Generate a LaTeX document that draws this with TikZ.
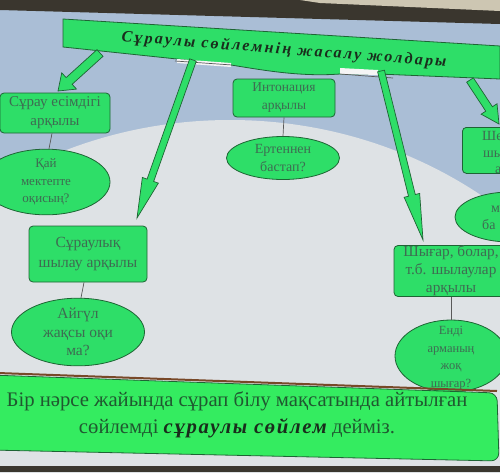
\documentclass[tikz,border=0pt]{standalone}
\usepackage{fontspec}
\setmainfont{Liberation Serif}
\usetikzlibrary{calc,shapes.geometric}
\definecolor{bgblue}{RGB}{170,190,214}
\definecolor{bglight}{RGB}{222,226,229}
\definecolor{gfill}{RGB}{46,222,104}
\definecolor{gfillb}{RGB}{52,236,96}
\definecolor{gline}{RGB}{30,100,52}
\definecolor{gtext}{RGB}{62,108,82}
\definecolor{btext}{RGB}{32,88,48}
\definecolor{ttext}{RGB}{25,45,28}
\definecolor{darkband}{RGB}{58,54,46}
\definecolor{beige}{RGB}{205,198,178}
\definecolor{brownline}{RGB}{120,72,40}
\newcommand\blockarrow[5]{%
  \path[barrow] let \p1=(#1), \p2=(#2), \n1={atan2(\y2-\y1,\x2-\x1)},
    \n2={veclen(\x2-\x1,\y2-\y1)-#5} in
    ($(\p1)+({\n1+90}:#3pt)$) -- ($(\p1)+(\n1:\n2)+({\n1+90}:#3pt)$)
    -- ($(\p1)+(\n1:\n2)+({\n1+90}:#4pt)$) -- (\p2)
    -- ($(\p1)+(\n1:\n2)+({\n1-90}:#4pt)$) -- ($(\p1)+(\n1:\n2)+({\n1-90}:#3pt)$)
    -- ($(\p1)+({\n1-90}:#3pt)$) -- cycle;}
\tikzset{
  gbox/.style={draw=gline, fill=gfill, rounded corners=4pt, line width=0.8pt, text=gtext,
    align=center, inner sep=0pt, font=\fontsize{14}{18}\selectfont},
  gell/.style={ellipse, draw=gline, fill=gfill, line width=0.8pt, text=gtext,
    align=center, inner sep=0pt, font=\fontsize{13}{17.5}\selectfont},
  link/.style={draw=black!65, line width=0.7pt},
  barrow/.style={draw=gline, fill=gfill, line width=0.7pt, line join=miter},
  parttxt/.style={text=gtext, inner sep=0pt, font=\fontsize{14}{17}\selectfont}
}
\begin{document}
\begin{tikzpicture}[x=1pt,y=-1pt]
\useasboundingbox (0,0) rectangle (500,472);
\clip (0,0) rectangle (500,472);
% background
\fill[bgblue] (0,0) rectangle (500,472);
\fill[bglight] (230,520) ellipse [x radius=430, y radius=400];
\fill[bglight] (0,445) rectangle (500,472);
\fill[darkband] (0,0) -- (500,0) -- (500,24) -- (0,10) -- cycle;
\fill[beige] (300,0) -- (500,0) -- (500,11) -- (320,3) -- cycle;
\fill[darkband] (0,466) rectangle (500,472);
% title banner
\path[draw=gline, fill=gfill, line width=0.8pt]
  (63,19) -- (500,46) -- (500,79) -- (378,74) -- (340,74)
  .. controls (300,77) and (262,70) .. (231,65) -- (177,59) -- (63,47) -- cycle;
\fill[white!92!gray] (177,59) -- (231,63) -- (231,67) -- (177,63) -- cycle;
\fill[white!92!gray] (340,68) -- (378,70) -- (378,75) -- (340,74) -- cycle;
\draw[link] (175,61) -- (232,65);
\draw[link] (340,74) -- (393,78);
\node[rotate=-4.5, text=ttext, inner sep=0pt,
  font=\fontsize{16}{18}\selectfont\bfseries\itshape\addfontfeatures{LetterSpace=14}]
  (title) at (284,50) {Сұраулы сөйлемнің жасалу жолдары};
% coordinates for block arrows
\coordinate (a1s) at (100,53); \coordinate (a1e) at (58,91);
\coordinate (a2s) at (193,60); \coordinate (a2e) at (137,218);
\coordinate (a3s) at (381,71); \coordinate (a3e) at (423,240);
\coordinate (a4s) at (470,80); \coordinate (a4e) at (499,124);
% boxes and ellipses
\node[gbox, minimum width=110, minimum height=40, font=\fontsize{15}{19}\selectfont] (b1) at (55,113) {Сұрау есімдігі\\арқылы};
\node[gell, minimum width=128, minimum height=55] (e1) at (46,182) {Қай\\мектепте\\оқисың?};
\node[gbox, minimum width=102, minimum height=38, font=\fontsize{13.5}{18}\selectfont] (b2) at (284,98) {Интонация\\арқылы};
\node[gell, minimum width=113, minimum height=43, font=\fontsize{14}{18}\selectfont] (e2) at (283,158) {Ертеннен\\бастап?};
\node[gbox, minimum width=118, minimum height=56, font=\fontsize{15.5}{20}\selectfont] (b3) at (88,254) {Сұраулық\\шылау арқылы};
\node[gell, minimum width=133, minimum height=60, font=\fontsize{15.5}{18.5}\selectfont] (e3) at (78,332) {Айгүл\\жақсы оқи\\ма?};
\node[gbox, minimum width=114, minimum height=51, font=\fontsize{15.3}{18}\selectfont] (b4) at (451,271) {Шығар, болар,\\т.б. шылаулар\\арқылы};
\node[gell, minimum width=112, minimum height=72] (e4) at (451,356) {};
\node[gell, fill=none, draw=none, font=\fontsize{12.5}{17.5}\selectfont] (e4t) at (451,358) {Енді\\арманың\\жоқ\\шығар?};
\node[gbox, minimum width=60, minimum height=46, anchor=north west] (b5) at (462,127) {};
\node[parttxt, anchor=base west] (b5a) at (482,140) {Ше};
\node[parttxt, anchor=base west] (b5b) at (483,157) {шы};
\node[parttxt, anchor=base west] (b5c) at (495,173) {а};
\node[gell, minimum width=110, minimum height=50] (e5) at (510,217) {};
\node[parttxt, anchor=base west] (e5a) at (491,212) {м};
\node[parttxt, anchor=base west] (e5b) at (482,229) {ба};
% links
\draw[link] ($(b1.south)+(-3,0)$) -- ($(e1.north)+(3,0)$);
\draw[link] (b2.south) -- (e2.north);
\draw[link] ($(b3.south)+(-4,0)$) -- ($(e3.north)+(3,0)$);
\draw[link] (b4.south) -- (e4.north);
% block arrows
\blockarrow{a1s}{a1e}{4.5}{11}{15}
\blockarrow{a2s}{a2e}{3.5}{8.5}{40}
\blockarrow{a3s}{a3e}{3.5}{8}{46}
\blockarrow{a4s}{a4e}{4}{9.5}{18}
% bottom banner
\draw[brownline, line width=2pt] (-2,373) -- (497,391);
\path[draw=gline, fill=gfillb, line width=0.8pt, rounded corners=8pt]
  (-10,375) -- (497,393) -- (499,461) -- (-10,450) -- cycle;
\node[text=btext, align=center, inner sep=0pt, font=\fontsize{20.7}{27}\selectfont] (def) at (237,415)
  {Бір нәрсе жайында сұрап білу мақсатында айтылған\\
   сөйлемді {\color{ttext}\bfseries\itshape\addfontfeatures{LetterSpace=8}сұраулы сөйлем} дейміз.};
\end{tikzpicture}
\end{document}
